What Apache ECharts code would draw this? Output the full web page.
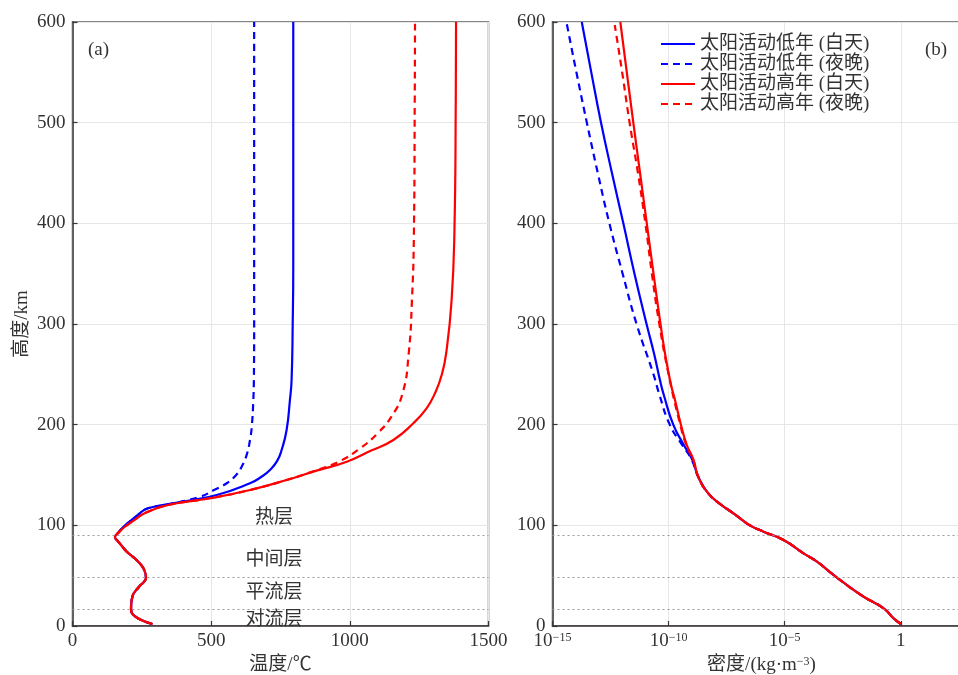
<!DOCTYPE html>
<html><head><meta charset="utf-8">
<script src="https://cdn.jsdelivr.net/npm/echarts@6/dist/echarts.min.js"></script>
<style>html,body{margin:0;padding:0;background:#fff}#c{width:958px;height:675px}</style>
</head><body><div id="c"></div>
<script>
// ---------- data ----------
const seriesNames = ['太阳活动低年 (白天)', '太阳活动低年 (夜晚)', '太阳活动高年 (白天)', '太阳活动高年 (夜晚)'];

// Temperature: shared lower atmosphere (altitude km / temperature)
const tempLowAlt = [2, 11, 17.6, 29, 39, 44, 48, 53, 59, 67, 74, 80.5, 85, 88.4, 92];
const tempLowVal = [288, 219, 211, 216, 240, 258, 265, 262, 252, 225, 195, 175, 161, 153, 163];
// Solar minimum, day
const tLoDayAlt = [98, 103.6, 110, 116.9, 123.5, 130.1, 141.8, 148, 155, 164, 174.8, 194.7, 224.5, 244.4, 300, 357, 450, 600];
const tLoDayVal = [182, 206, 234, 272, 398, 520, 640, 680, 712, 738, 754, 772, 784, 790, 794, 796, 796, 796];
// Solar minimum, night
const tLoNightAlt = [98, 103.6, 110, 116.9, 120.2, 128.4, 135, 141.8, 150, 158.2, 170, 184.8, 200, 224.5, 244, 300, 600];
const tLoNightVal = [182, 206, 234, 272, 335, 460, 510, 556, 590, 610, 628, 640, 647, 652, 654, 655, 655];
// Solar maximum, day
const tHiDayAlt = [98.6, 105, 112, 120.2, 126.9, 135.1, 145, 154.3, 163.2, 174, 184.8, 201.4, 216, 231.2, 250, 274.2, 323.8, 390, 522.5, 600];
const tHiDayVal = [189, 222, 260, 345, 496, 640, 772, 880, 989, 1075, 1157, 1229, 1276, 1307, 1332, 1349, 1367, 1377, 1382, 1383];
// Solar maximum, night
const tHiNightAlt = [98.6, 105, 112, 120.2, 126.9, 135.1, 145, 154.3, 163.2, 176.5, 191.4, 208, 231, 270, 324, 390, 520, 600];
const tHiNightVal = [189, 222, 260, 345, 496, 640, 772, 875, 960, 1037, 1100, 1150, 1190, 1212, 1224, 1231, 1234, 1235];

// Density (log10 of kg/m^3): shared lower atmosphere
const rhoLowAlt = [2, 7.6, 17.6, 29.1, 40.7, 50.7, 63.9, 72.2, 85.4, 93.7, 100, 107, 115, 120, 132, 148];
const rhoLowExp = [0.0, -0.31, -0.74, -1.60, -2.32, -2.90, -3.61, -4.19, -5.05, -5.91, -6.5, -6.92, -7.4, -7.72, -8.3, -8.72];
const rLoDayAlt = [165, 180, 200, 229, 244, 270, 300, 350, 400, 450, 500, 550, 600];
const rLoDayExp = [-8.98, -9.35, -9.8, -10.2, -10.37, -10.62, -10.95, -11.47, -11.95, -12.44, -12.91, -13.33, -13.74];
const rLoNightAlt = [165, 180, 200, 230, 250, 300, 350, 400, 450, 500, 550, 600];
const rLoNightExp = [-9.0, -9.42, -9.95, -10.4, -10.65, -11.38, -11.98, -12.55, -13.05, -13.52, -13.97, -14.4];
const rHiDayAlt = [165, 180, 200, 224, 240, 270, 300, 350, 400, 450, 500, 550, 600];
const rHiDayExp = [-8.93, -9.22, -9.47, -9.72, -9.9, -10.15, -10.35, -10.65, -10.94, -11.23, -11.52, -11.8, -12.08];
const rHiNightAlt = [165, 180, 200, 250, 300, 350, 400, 450, 500, 550, 597];
const rHiNightExp = [-8.94, -9.24, -9.5, -10.0, -10.4, -10.72, -11.0, -11.32, -11.68, -12.0, -12.32];

// Layer boundaries and names
const layerBounds = [17, 48, 90];
const layerNames = ['热层', '中间层', '平流层', '对流层'];
const layerAlt = [107, 65.5, 32.7, 6];
const layerTemp = [727, 727, 727, 727];

const tempTicks = [0, 500, 1000, 1500];
const altTicks = [0, 100, 200, 300, 400, 500, 600];
const rhoTickExps = [-15, -10, -5, 0];

// ---------- build ----------
function pairs(xs, ys) { return xs.map((x, i) => [x, ys[i]]); }
function tempSeries(alt, val) { return pairs(val, alt); }
const tShared = tempSeries(tempLowAlt, tempLowVal);
const rShared = pairs(rhoLowExp, rhoLowAlt);

const tempData = [
  tShared.concat(tempSeries(tLoDayAlt, tLoDayVal)),
  tShared.concat(tempSeries(tLoNightAlt, tLoNightVal)),
  tShared.concat(tempSeries(tHiDayAlt, tHiDayVal)),
  tShared.concat(tempSeries(tHiNightAlt, tHiNightVal))
];
const rhoData = [
  rShared.concat(pairs(rLoDayExp, rLoDayAlt)),
  rShared.concat(pairs(rLoNightExp, rLoNightAlt)),
  rShared.concat(pairs(rHiDayExp, rHiDayAlt)),
  rShared.concat(pairs(rHiNightExp, rHiNightAlt))
];
const colors = ['#0000ff', '#0000ff', '#ff0000', '#ff0000'];
const dashed = [false, true, false, true];

const FONT = '"Liberation Serif", "Noto Sans CJK SC", serif';
const TXT = '#333';
const AX = '#3a3434';

const boundaryMark = {
  silent: true, symbol: 'none', animation: false,
  label: { show: false },
  lineStyle: { color: '#9a9a9a', type: [2, 3], width: 1 },
  data: layerBounds.map(v => ({ yAxis: v }))
};

const series = [];
for (let i = 0; i < 4; i++) {
  const ls = { color: colors[i], width: 2.2, type: dashed[i] ? [7, 5] : 'solid' };
  const s1 = {
    name: seriesNames[i], type: 'line', xAxisIndex: 0, yAxisIndex: 0,
    data: tempData[i], symbol: 'none', smooth: 0.5, lineStyle: ls, itemStyle: { color: colors[i] },
    z: 3 + (i >= 2 ? 1 : 0)
  };
  const s2 = {
    name: seriesNames[i], type: 'line', xAxisIndex: 1, yAxisIndex: 1,
    data: rhoData[i], symbol: 'none', smooth: 0.5, lineStyle: ls, itemStyle: { color: colors[i] },
    z: 3 + (i >= 2 ? 1 : 0)
  };
  if (i === 0) {
    s1.markLine = boundaryMark;
    s2.markLine = boundaryMark;
    s1.markPoint = {
      silent: true, symbol: 'rect', symbolSize: 1, itemStyle: { color: 'rgba(0,0,0,0)' },
      label: { show: true, position: 'inside', formatter: '{b}', fontSize: 19, fontFamily: FONT, color: TXT },
      data: layerNames.map((n, k) => ({ name: n, coord: [layerTemp[k], layerAlt[k]] }))
    };
  }
  series.push(s1, s2);
}

const axisCommon = {
  axisLine: { show: true, onZero: false, lineStyle: { color: AX, width: 1.5 } },
  axisTick: { show: true, inside: true, length: 5, lineStyle: { color: AX, width: 1.2 } },
  splitLine: { show: true, lineStyle: { color: '#e6e6e6', width: 1 } },
  axisLabel: { fontSize: 19, fontFamily: FONT, color: TXT, margin: 6, formatter: v => String(v) }
};

const option = {
  animation: false,
  backgroundColor: '#fff',
  grid: [
    { left: 72.5, top: 22, width: 416, height: 604, show: true, borderColor: '#5e5e5e', borderWidth: 1.5,
      containLabel: false, outerBoundsMode: 'none' },
    { left: 552.5, top: 22, width: 418, height: 604, show: true, borderColor: '#5e5e5e', borderWidth: 1.5,
      containLabel: false, outerBoundsMode: 'none' }
  ],
  xAxis: [
    Object.assign({}, axisCommon, {
      type: 'value', gridIndex: 0, min: tempTicks[0], max: tempTicks[tempTicks.length - 1], interval: 500,
      name: '温度/℃', nameLocation: 'middle', nameGap: 28,
      nameTextStyle: { fontSize: 19, fontFamily: FONT, color: TXT }
    }),
    Object.assign({}, axisCommon, {
      type: 'value', gridIndex: 1, min: rhoTickExps[0], max: 3, interval: 5,
      name: '密度/(kg·m{s|−3})', nameLocation: 'middle', nameGap: 28,
      nameTextStyle: { fontSize: 19, fontFamily: FONT, color: TXT,
        rich: { s: { fontSize: 12, fontFamily: FONT, color: TXT, verticalAlign: 'top' } } },
      axisLabel: {
        fontSize: 19, fontFamily: FONT, color: TXT, margin: 6,
        formatter: function (v) {
          if (rhoTickExps.indexOf(v) < 0) return '';
          if (v === 0) return '{b|1}';
          return '{b|10}{s|−' + (-v) + '}';
        },
        rich: {
          b: { fontSize: 19, fontFamily: FONT, color: TXT },
          s: { fontSize: 12, fontFamily: FONT, color: TXT, verticalAlign: 'top' }
        }
      }
    })
  ],
  yAxis: [
    Object.assign({}, axisCommon, {
      type: 'value', gridIndex: 0, min: 0, max: altTicks[altTicks.length - 1], interval: 100,
      name: '高度/km', nameLocation: 'middle', nameGap: 41,
      nameTextStyle: { fontSize: 19, fontFamily: FONT, color: TXT },
      axisLabel: { fontSize: 19, fontFamily: FONT, color: TXT, margin: 7, formatter: v => String(v) }
    }),
    Object.assign({}, axisCommon, {
      type: 'value', gridIndex: 1, min: 0, max: altTicks[altTicks.length - 1], interval: 100,
      axisLabel: { fontSize: 19, fontFamily: FONT, color: TXT, margin: 7, formatter: v => String(v) }
    })
  ],
  legend: {
    data: seriesNames, orient: 'vertical', left: 660, top: 34, padding: 0,
    itemWidth: 34, itemHeight: 12, itemGap: 0,
    itemStyle: { opacity: 0 },
    textStyle: { fontSize: 19, fontFamily: FONT, color: TXT, lineHeight: 20 }
  },
  graphic: [
    { type: 'text', left: 88, top: 41, style: { text: '(a)', font: '19px "Liberation Serif"', fill: TXT } },
    { type: 'text', left: 925, top: 41, style: { text: '(b)', font: '19px "Liberation Serif"', fill: TXT } }
  ],
  series: series
};

const chart = echarts.init(document.getElementById('c'), null, { renderer: 'canvas' });
chart.setOption(option);
</script>
</body></html>
